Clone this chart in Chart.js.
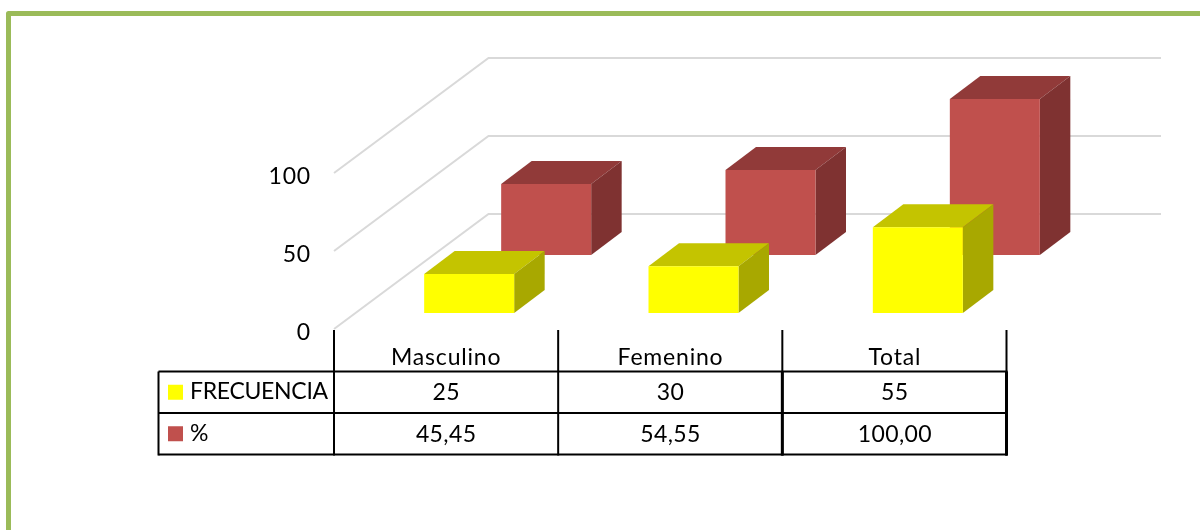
<!DOCTYPE html>
<html>
<head>
<meta charset="utf-8">
<style>
html,body{margin:0;padding:0;background:#fff;}
#wrap{position:relative;width:1200px;height:530px;}
canvas{display:block;}
</style>
<script src="https://cdn.jsdelivr.net/npm/chart.js@4"></script>
</head>
<body>
<div id="wrap"><canvas id="c" width="1200" height="530"></canvas></div>
<script>
const categories = ['Masculino', 'Femenino', 'Total'];
const frecuencia = [25, 30, 55];
const porcentaje = [45.45, 54.55, 100];
const yTicks = [0, 50, 100];

const FONT = 'Lato';
const FS = 23;
const DEPTH = {dx: 154.5, dy: -115};
const BAR_DEPTH = {dx: 30.5, dy: -23};
const STYLE = {
  FRECUENCIA: {front: '#ffff00', top: '#c4c400', side: '#a8a800', shift: {x: 23, y: -16}},
  '%': {front: '#c0504d', top: '#913a39', side: '#7f3231', shift: {x: 100, y: -74}}
};

function poly(ctx, pts, fill) {
  ctx.beginPath();
  pts.forEach((p, i) => i ? ctx.lineTo(p[0], p[1]) : ctx.moveTo(p[0], p[1]));
  ctx.closePath();
  ctx.fillStyle = fill;
  ctx.fill();
}

const plugin3d = {
  id: 'plugin3d',
  beforeDraw(chart) {
    const ctx = chart.ctx;
    ctx.letterSpacing = '0.8px';
    ctx.save();
    ctx.fillStyle = '#fff';
    ctx.fillRect(0, 0, 1200, 530);
    ctx.strokeStyle = '#9bbb59';
    ctx.lineWidth = 5;
    ctx.lineJoin = 'round';
    ctx.beginPath();
    ctx.moveTo(8.5, 540);
    ctx.lineTo(8.5, 13.5);
    ctx.lineTo(1210, 13.5);
    ctx.stroke();
    ctx.restore();
  },
  beforeDatasetsDraw(chart) {
    const ctx = chart.ctx, y = chart.scales.y, a = chart.chartArea;
    ctx.save();
    ctx.strokeStyle = '#d9d9d9';
    ctx.lineWidth = 2;
    yTicks.forEach(v => {
      const py = y.getPixelForValue(v);
      ctx.beginPath();
      ctx.moveTo(a.left, py);
      ctx.lineTo(a.left + DEPTH.dx, py + DEPTH.dy);
      ctx.lineTo(a.left + 827, py + DEPTH.dy);
      ctx.stroke();
    });
    ctx.restore();
  },
  beforeDatasetDraw(chart, args) {
    const ctx = chart.ctx;
    const ds = chart.data.datasets[args.index];
    const st = STYLE[ds.label];
    ctx.save();
    ctx.translate(st.shift.x, st.shift.y);
    chart.getDatasetMeta(args.index).data.forEach(b => {
      const l = b.x - b.width / 2, r = b.x + b.width / 2, t = b.y, bt = b.base;
      const dx = BAR_DEPTH.dx, dy = BAR_DEPTH.dy;
      poly(ctx, [[l, t], [r, t], [r + dx, t + dy], [l + dx, t + dy]], st.top);
      poly(ctx, [[r, t], [r + dx, t + dy], [r + dx, bt + dy], [r, bt]], st.side);
    });
  },
  afterDatasetDraw(chart) {
    chart.ctx.restore();
  },
  afterDraw(chart) {
    const ctx = chart.ctx, a = chart.chartArea, x = chart.scales.x;
    const rows = [371.5, 413, 454.5];
    const left = 158.5;
    const tableRight = 1006.5;
    ctx.save();
    ctx.strokeStyle = '#000';
    ctx.lineWidth = 2;
    rows.forEach(ry => {
      ctx.beginPath();
      ctx.moveTo(left, ry);
      ctx.lineTo(tableRight + 1, ry);
      ctx.stroke();
    });
    const vs = [left, a.left];
    categories.forEach((c, i) => vs.push(a.left + (tableRight - a.left) * (i + 1) / categories.length));
    vs.forEach((vx, i) => {
      ctx.lineWidth = 2;
      ctx.beginPath();
      ctx.moveTo(vx, i === 0 ? rows[0] : a.bottom + 1);
      ctx.lineTo(vx, rows[2] + 1);
      ctx.stroke();
      if (i >= 3) {
        ctx.lineWidth = 3;
        ctx.beginPath();
        ctx.moveTo(vx, rows[0]);
        ctx.lineTo(vx, rows[2] + 1);
        ctx.stroke();
      }
    });
    ctx.font = FS + 'px ' + FONT;
    ctx.textBaseline = 'middle';
    ctx.fillStyle = '#000';
    chart.data.datasets.forEach((ds, r) => {
      const cy = (rows[r] + rows[r + 1]) / 2;
      ctx.fillStyle = ds.backgroundColor;
      ctx.fillRect(168, cy - 7.5, 15, 15);
      ctx.fillStyle = '#000';
      ctx.textAlign = 'left';
      ctx.letterSpacing = '-0.3px';
      ctx.fillText(ds.label, 190, cy - 0.5);
      ctx.textAlign = 'center';
      ctx.letterSpacing = '0.4px';
      ds.data.forEach((v, i) => {
        const txt = ds.label === '%' ? v.toFixed(2).replace('.', ',') : String(v);
        ctx.fillText(txt, x.getPixelForValue(i), cy + 0.5);
      });
    });
    ctx.restore();
  }
};

new Chart(document.getElementById('c'), {
  type: 'bar',
  data: {
    labels: categories,
    datasets: [
      {label: 'FRECUENCIA', data: frecuencia, backgroundColor: STYLE.FRECUENCIA.front, clip: false},
      {label: '%', data: porcentaje, backgroundColor: STYLE['%'].front, clip: false}
    ]
  },
  options: {
    responsive: false,
    animation: false,
    layout: {padding: {top: 173, right: 193, bottom: 0, left: 0}},
    plugins: {legend: {display: false}, tooltip: {enabled: false}, title: {display: false}},
    datasets: {bar: {grouped: false, categoryPercentage: 1, barPercentage: 90 / 224.33}},
    scales: {
      x: {
        grid: {display: false, drawTicks: false},
        border: {display: false},
        ticks: {color: '#000', font: {family: FONT, size: FS}, padding: 15, maxRotation: 0},
        afterFit(s) { s.height = 201; }
      },
      y: {
        min: 0, max: 100,
        grid: {display: false, drawTicks: false},
        border: {display: false},
        ticks: {color: '#000', font: {family: FONT, size: FS}, padding: 23, stepSize: 50, labelOffset: 4},
        afterFit(s) { s.width = 334; }
      }
    }
  },
  plugins: [plugin3d]
});
</script>
</body>
</html>
